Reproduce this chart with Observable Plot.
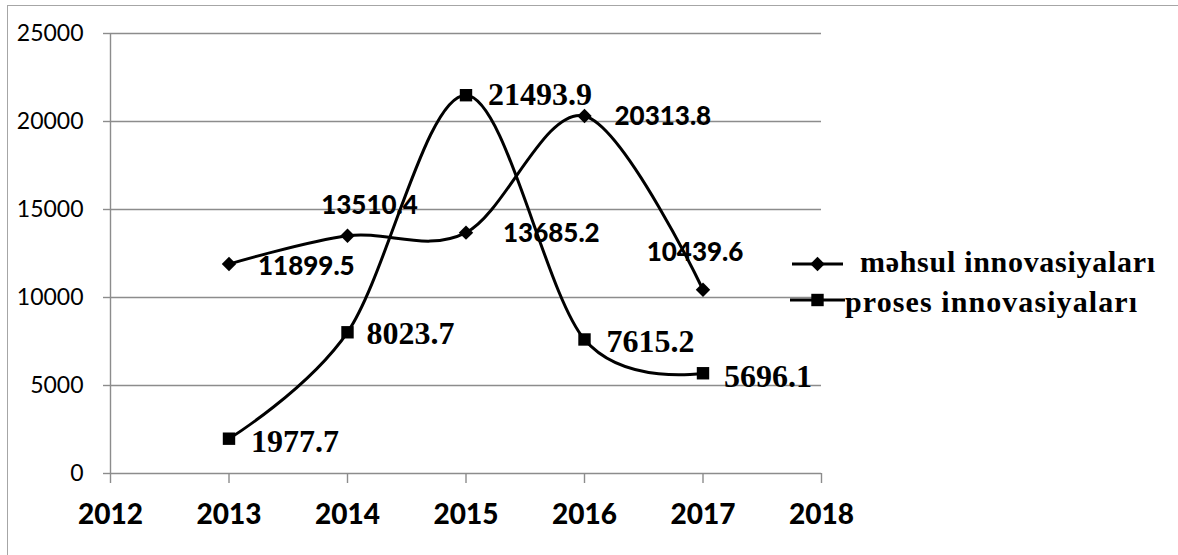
<!DOCTYPE html>
<html>
<head>
<meta charset="utf-8">
<script src="https://cdn.jsdelivr.net/npm/d3@7"></script>
<script src="https://cdn.jsdelivr.net/npm/@observablehq/plot@0.6"></script>
<style>
  html, body { margin: 0; padding: 0; background: #fff; }
  #wrap { position: relative; width: 1178px; height: 555px; overflow: hidden; }
  #frame { position: absolute; left: 7px; top: 5px; right: -3px; bottom: -3px;
           border-top: 1.5px solid #a6a6a6; border-left: 1.5px solid #a6a6a6; pointer-events: none; }
  #legend { position: absolute; left: 0; top: 0; pointer-events: none; }
</style>
</head>
<body>
<div id="wrap"><div id="chart"></div><svg id="legend" width="1178" height="555"></svg><div id="frame"></div></div>
<script>
// ---- data ----
const years = [2013, 2014, 2015, 2016, 2017];
const mehsul = [11899.5, 13510.4, 13685.2, 20313.8, 10439.6];
const proses = [1977.7, 8023.7, 21493.9, 7615.2, 5696.1];
const mehsulLabels = ["11899.5", "13510.4", "13685.2", "20313.8", "10439.6"];
const prosesLabels = ["1977.7", "8023.7", "21493.9", "7615.2", "5696.1"];
const seriesNames = ["məhsul innovasiyaları", "proses innovasiyaları"];
const xTicks = [2012, 2013, 2014, 2015, 2016, 2017, 2018];
const yTicks = [0, 5000, 10000, 15000, 20000, 25000];

// ---- layout / style (not data) ----
const mLabelPos = [
  {dx: 29, dy: 3, anchor: "start"},
  {dx: 22, dy: -30, anchor: "middle"},
  {dx: 37, dy: 1, anchor: "start"},
  {dx: 30, dy: 1, anchor: "start"},
  {dx: -8, dy: -37, anchor: "middle"}
];
const pLabelPos = [
  {dx: 22, dy: 3}, {dx: 19, dy: 1}, {dx: 22, dy: 0}, {dx: 22, dy: 2}, {dx: 21, dy: 4}
];
const gridColor = "#8c8c8c";
const sansFont = "Lato, 'Open Sans', sans-serif";
const serifFont = "'Liberation Serif', 'Times New Roman', serif";

const mRows = years.map((year, i) => ({year, value: mehsul[i], label: mehsulLabels[i]}));
const pRows = years.map((year, i) => ({year, value: proses[i], label: prosesLabels[i]}));

const mLabelMarks = mRows.map((d, i) => Plot.text([d], {
  x: "year", y: "value", text: "label",
  dx: mLabelPos[i].dx, dy: mLabelPos[i].dy, textAnchor: mLabelPos[i].anchor,
  fontFamily: sansFont, fontWeight: 900, fontSize: 26, fill: "black"
}));
const pLabelMarks = pRows.map((d, i) => Plot.text([d], {
  x: "year", y: "value", text: "label",
  dx: pLabelPos[i].dx, dy: pLabelPos[i].dy, textAnchor: "start",
  fontFamily: serifFont, fontWeight: "bold", fontSize: 32, fill: "black"
}));

const chart = Plot.plot({
  width: 1178, height: 555,
  marginLeft: 110, marginRight: 357, marginTop: 33, marginBottom: 82,
  x: {domain: [2012, 2018], label: null},
  y: {domain: [0, 25000], label: null},
  style: {background: "white", color: "black", fontFamily: sansFont},
  marks: [
    Plot.gridY(yTicks.filter(t => t > 0), {stroke: gridColor, strokeOpacity: 1, strokeWidth: 1.4}),
    Plot.ruleY([0], {stroke: gridColor, strokeWidth: 1.4}),
    Plot.ruleX([2012], {stroke: gridColor, strokeWidth: 1.4}),
    Plot.axisY(yTicks, {tickSize: 7, tickPadding: 20, tickFormat: "d", fontSize: 23,
      stroke: gridColor, strokeWidth: 1.4, fill: "black", label: null, fontFamily: sansFont}),
    Plot.axisX(xTicks, {tickSize: 10, tickPadding: 21, tickFormat: "d", fontSize: 28, fontWeight: 900,
      stroke: gridColor, strokeWidth: 1.4, fill: "black", label: null, fontFamily: sansFont}),
    Plot.line(mRows, {x: "year", y: "value", curve: "cardinal", stroke: "black", strokeWidth: 3}),
    Plot.line(pRows, {x: "year", y: "value", curve: "cardinal", stroke: "black", strokeWidth: 3}),
    Plot.dot(mRows, {x: "year", y: "value", symbol: "diamond2", r: 6.5, fill: "black", stroke: "none"}),
    Plot.dot(pRows, {x: "year", y: "value", symbol: "square", r: 7, fill: "black", stroke: "none"}),
    ...mLabelMarks,
    ...pLabelMarks
  ]
});
document.getElementById("chart").appendChild(chart);

// ---- legend ----
const legendItems = [
  {name: seriesNames[0], symbol: d3.symbolDiamond2, size: Math.PI * 6.5 * 6.5, lx1: 792, lx2: 843, ly: 264, tx: 860, ty: 272, tl: 295},
  {name: seriesNames[1], symbol: d3.symbolSquare, size: Math.PI * 7 * 7, lx1: 790, lx2: 845, ly: 300, tx: 845, ty: 312, tl: 292}
];
const lg = d3.select("#legend");
legendItems.forEach(it => {
  lg.append("line").attr("x1", it.lx1).attr("x2", it.lx2).attr("y1", it.ly).attr("y2", it.ly)
    .attr("stroke", "black").attr("stroke-width", 3);
  lg.append("path").attr("d", d3.symbol(it.symbol, it.size)())
    .attr("transform", `translate(${(it.lx1 + it.lx2) / 2},${it.ly})`).attr("fill", "black");
  lg.append("text").attr("x", it.tx).attr("y", it.ty).text(it.name)
    .attr("font-family", serifFont).attr("font-weight", "bold").attr("font-size", 30)
    .attr("textLength", it.tl).attr("lengthAdjust", "spacing").attr("fill", "black");
});
</script>
</body>
</html>
